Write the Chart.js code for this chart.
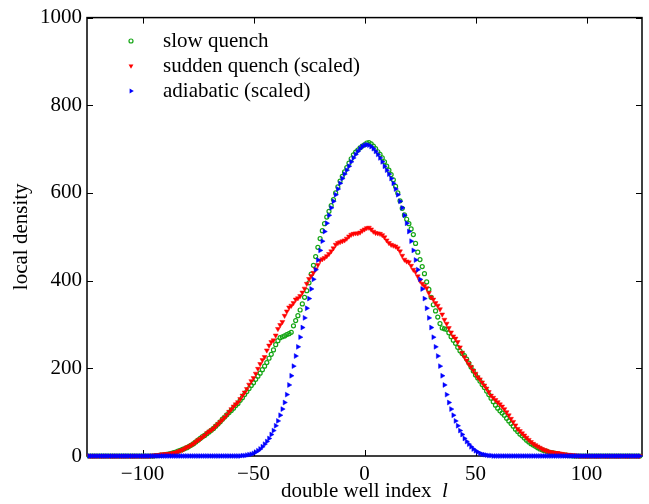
<!DOCTYPE html>
<html>
<head>
<meta charset="utf-8">
<script src="https://cdn.jsdelivr.net/npm/chart.js@4.4.1/dist/chart.umd.min.js"></script>
<style>
  html, body { margin: 0; padding: 0; background: #fff; }
  #wrap { width: 649px; height: 504px; }
</style>
</head>
<body>
<div id="wrap"><canvas id="density" width="649" height="504"></canvas></div>
<script>
// double well index l runs from firstIndex, one value per well
const firstIndex = -124;

const slowQuench = [
  0,0,0,0,0,0,0,0,0,0, 0,0,0,0,0,0,0,0,0,0, 0,0,0,0,0,0,0,0,0,0,
  1,1,2,2,3,4,5,6,8,9, 11,13,15,17,19,22,25,28,32,36, 40,44,47,51,55,59,63,68,73,78,
  84,89,94,99,104,109,115,120,127,133, 140,147,154,161,167,175,182,189,197,205,
  213,223,232,242,254,263,270,272,274,277, 279,282,297,309,320,333,347,362,377,395,
  415,435,455,476,496,514,530,545,558,571, 585,600,614,627,638,648,658,668,678,687,
  693,698,703,707,710,714,715,712,707,701, 694,688,680,671,661,652,642,630,615,600,
  582,565,550,540,530,518,505,485,465,448, 432,416,397,380,362,345,331,317,302,292,
  290,289,281,272,264,257,248,240,234,229, 221,212,203,194,185,178,171,163,156,148,
  140,132,124,116,109,103,98,93,86,80, 74,68,61,56,50,46,41,36,32,28,
  25,22,19,16,14,12,11,9,8,7, 6,5,4,3,2,2,1,1,
  0,0,0,0,0,0,0,0,0,0, 0,0,0,0,0,0,0,0,0,0, 0,0,0,0,0,0,0,0,0,0, 0
];

const suddenQuench = [
  0,0,0,0,0,0,0,0,0,0, 0,0,0,0,0,0,0,0,0,0, 0,0,0,0,0,0,0,0,
  1,1,2,2,3,4,4,5,5,6, 7,8,10,12,14,17,20,22,25,28, 32,36,39,43,47,52,56,59,63,68,
  73,78,83,88,94,101,107,113,118,123, 130,138,145,153,163,171,178,188,199,210,
  219,226,241,252,260,264,275,290,299,306, 320,330,339,343,349,357,360,365,373,382,
  393,404,411,418,426,436,446,449,452,456, 461,467,474,482,486,488,490,492,496,501,
  505,507,508,508,510,514,517,520,521,517, 512,509,508,507,504,499,492,486,482,480,
  478,474,467,457,448,444,442,434,425,420, 410,400,393,388,383,372,362,357,349,343,
  335,323,311,302,292,282,273,268,260,248, 236,226,218,210,203,195,188,180,175,168,
  161,154,146,138,133,128,123,118,113,107, 100,93,85,78,70,62,57,52,47,42,
  37,32,28,25,22,19,16,14,12,10, 9,8,7,7,6,5,4,3,3,2, 2,1,1,
  0,0,0,0,0,0,0,0,0,0, 0,0,0,0,0,0,0,0,0,0, 0,0,0,0,0,0,0,0
];

const adiabatic = [
  0,0,0,0,0,0,0,0,0,0, 0,0,0,0,0,0,0,0,0,0, 0,0,0,0,0,0,0,0,0,0,
  0,0,0,0,0,0,0,0,0,0, 0,0,0,0,0,0,0,0,0,0, 0,0,0,0,0,0,0,0,0,0,
  0,0,0,0,0,0,0,0,0,
  1,1,2,3,4,6,9,12,16,21, 27,33,40,49,58,69,80,93,107,122,
  140,162,183,205,228,249,271,293,315,337, 359,381,403,425,447,469,490,512,531,549,
  566,581,596,609,622,633,643,652,661,671, 680,688,695,701,706,709,710,709,706,701,
  695,688,680,671,661,652,643,633,622,609, 596,581,566,549,531,512,490,469,447,425,
  403,381,359,337,315,293,271,249,228,205, 183,162,140,122,107,93,80,69,58,49,
  40,33,27,21,16,12,9,6,4,3, 2,1,1,
  0,0,0,0,0,0,0,0,0,0, 0,0,0,0,0,0,0,0,0,0, 0,0,0,0,0,0,0,0,0,0,
  0,0,0,0,0,0,0,0,0,0, 0,0,0,0,0,0,0,0,0,0, 0,0,0,0,0,0,0,0,0,0,
  0,0,0,0,0,0,0
];

const seriesNames = ['slow quench', 'sudden quench (scaled)', 'adiabatic (scaled)'];
const xTicks = [-100, -50, 0, 50, 100];
const yTicks = [0, 200, 400, 600, 800, 1000];

const serif = "'Liberation Serif', 'Times New Roman', serif";
const green = 'rgb(20,165,20)';
const red = 'rgb(255,0,0)';
const blue = 'rgb(0,0,255)';

function toPoints(values) {
  return values.map((v, i) => ({ x: firstIndex + i, y: v }));
}

function marker(ctx, kind, x, y) {
  ctx.beginPath();
  if (kind === 'circle') {
    ctx.strokeStyle = green;
    ctx.lineWidth = 1.2;
    ctx.arc(x, y, 2, 0, Math.PI * 2);
    ctx.stroke();
    return;
  }
  const r = 2.8;
  const rot = kind === 'down' ? Math.PI : Math.PI / 2;
  ctx.fillStyle = kind === 'down' ? red : blue;
  for (let k = 0; k < 3; k++) {
    const a = rot + k * 2 * Math.PI / 3;
    const px = x + Math.sin(a) * r, py = y - Math.cos(a) * r;
    if (k === 0) ctx.moveTo(px, py); else ctx.lineTo(px, py);
  }
  ctx.closePath();
  ctx.fill();
}

const frame = {
  id: 'frame',
  beforeDatasetsDraw(chart) {
    const { ctx, chartArea: a, scales: { x, y } } = chart;
    ctx.save();
    ctx.strokeStyle = '#000';
    ctx.lineWidth = 1.5;
    ctx.strokeRect(a.left, a.top, a.right - a.left, a.bottom - a.top);
    ctx.lineWidth = 1;
    ctx.beginPath();
    xTicks.forEach(v => {
      const px = Math.round(x.getPixelForValue(v)) + 0.5;
      ctx.moveTo(px, a.bottom); ctx.lineTo(px, a.bottom - 6);
      ctx.moveTo(px, a.top); ctx.lineTo(px, a.top + 6);
    });
    yTicks.forEach(v => {
      const py = Math.round(y.getPixelForValue(v)) + 0.5;
      ctx.moveTo(a.left, py); ctx.lineTo(a.left + 6, py);
      ctx.moveTo(a.right, py); ctx.lineTo(a.right - 6, py);
    });
    ctx.stroke();
    ctx.restore();
  },
  afterDraw(chart) {
    const { ctx, chartArea: a } = chart;
    ctx.save();
    // legend
    const kinds = ['circle', 'down', 'right'];
    ctx.font = '21px ' + serif;
    ctx.textBaseline = 'middle';
    ctx.textAlign = 'left';
    seriesNames.forEach((name, i) => {
      const ly = 41 + i * 25;
      marker(ctx, kinds[i], 131, ly);
      ctx.fillStyle = '#000';
      ctx.fillText(name, 163, ly);
    });
    // x axis title with italic l
    const main = 'double well index  ';
    ctx.font = '21px ' + serif;
    const w1 = ctx.measureText(main).width;
    ctx.font = 'italic 21px ' + serif;
    const w2 = ctx.measureText('l').width;
    const start = (a.left + a.right) / 2 - (w1 + w2) / 2;
    ctx.fillStyle = '#000';
    ctx.font = '21px ' + serif;
    ctx.fillText(main, start, 491);
    ctx.font = 'italic 21px ' + serif;
    ctx.fillText('l', start + w1, 491);
    ctx.restore();
  }
};

const datasets = [
  {
    label: seriesNames[0],
    data: toPoints(slowQuench),
    pointStyle: 'circle',
    pointRadius: 2,
    pointBorderWidth: 1.2,
    pointBorderColor: green,
    pointBackgroundColor: 'rgba(0,0,0,0)',
    order: 3
  },
  {
    label: seriesNames[1],
    data: toPoints(suddenQuench),
    pointStyle: 'triangle',
    rotation: 180,
    pointRadius: 2.8,
    pointBorderWidth: 0.5,
    pointBorderColor: red,
    pointBackgroundColor: red,
    order: 2
  },
  {
    label: seriesNames[2],
    data: toPoints(adiabatic),
    pointStyle: 'triangle',
    rotation: 90,
    pointRadius: 2.8,
    pointBorderWidth: 0.5,
    pointBorderColor: blue,
    pointBackgroundColor: blue,
    order: 1
  }
];
datasets.forEach(d => { d.showLine = false; d.clip = false; d.pointHoverRadius = d.pointRadius; });

new Chart(document.getElementById('density'), {
  type: 'scatter',
  data: { datasets: datasets },
  options: {
    responsive: false,
    animation: false,
    events: [],
    layout: { padding: { top: 17, right: 7, left: 0, bottom: 0 } },
    plugins: {
      legend: { display: false },
      tooltip: { enabled: false }
    },
    scales: {
      x: {
        type: 'linear',
        min: -125,
        max: 125,
        grid: { display: false, drawTicks: false },
        border: { display: false },
        afterBuildTicks: scale => { scale.ticks = xTicks.map(v => ({ value: v })); },
        afterFit: scale => { scale.height = 48; },
        ticks: {
          padding: 6,
          color: '#000',
          font: { family: serif, size: 21 },
          maxRotation: 0,
          callback: v => (v < 0 ? '\u2212' + Math.abs(v) : String(v))
        }
      },
      y: {
        min: 0,
        max: 1000,
        grid: { display: false, drawTicks: false },
        border: { display: false },
        afterBuildTicks: scale => { scale.ticks = yTicks.map(v => ({ value: v })); },
        afterFit: scale => { scale.width = 87; },
        ticks: {
          padding: 5,
          color: '#000',
          font: { family: serif, size: 21 },
          callback: v => String(v)
        },
        title: {
          display: true,
          text: 'local density',
          color: '#000',
          font: { family: serif, size: 21 },
          padding: { top: 9, bottom: 0 }
        }
      }
    }
  },
  plugins: [frame]
});
</script>
</body>
</html>
